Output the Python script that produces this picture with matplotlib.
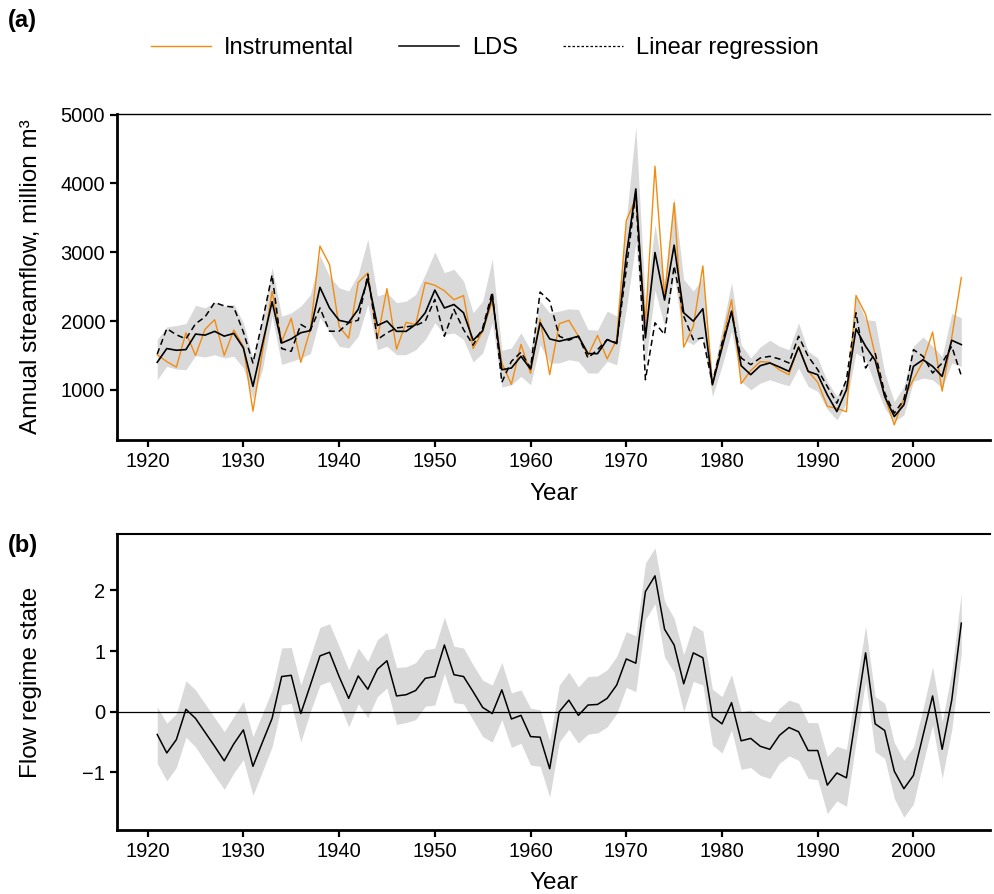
import matplotlib
matplotlib.use("Agg")
import matplotlib.pyplot as plt
from matplotlib.lines import Line2D
import numpy as np

plt.rcParams['font.family'] = ['Liberation Sans', 'DejaVu Sans']

# anos da serie
anos = list(range(1921, 2006))

# (a) vazao anual, milhoes de m3
instrumental = [1510, 1410, 1330, 1830, 1500, 1880, 2020, 1500, 1870, 1630,
                690, 1560, 2430, 1700, 2040, 1400, 1880, 3090, 2820, 1920,
                1750, 2560, 2700, 1740, 2470, 1590, 1980, 1950, 2560, 2520,
                2440, 2310, 2370, 1600, 1850, 2290, 1390, 1080, 1660, 1240,
                2030, 1220, 1960, 2010, 1780, 1500, 1790, 1450, 1730, 3460,
                3780, 1970, 4250, 2360, 3720, 1620, 1920, 2800, 1070, 1680,
                2310, 1090, 1280, 1410, 1400, 1290, 1220, 1630, 1270, 1110,
                760, 730, 680, 2370, 2100, 1510, 900, 490, 880, 1150,
                1410, 1840, 980, 1760, 2630]

lds = [1400, 1600, 1575, 1585, 1810, 1795, 1850, 1780, 1820, 1610,
       1050, 1670, 2280, 1680, 1740, 1830, 1860, 2490, 2190, 2010,
       1980, 2170, 2610, 1935, 2000, 1850, 1850, 1950, 2120, 2450,
       2190, 2240, 2120, 1720, 1860, 2363, 1292, 1317, 1487, 1302,
       1974, 1740, 1706, 1740, 1779, 1526, 1526, 1730, 1672, 2950,
       3920, 1755, 2996, 2305, 3103, 2120, 1998, 2178, 1074, 1609,
       2144, 1351, 1220, 1351, 1390, 1332, 1268, 1620, 1268, 1219,
       927, 684, 1000, 1886, 1633, 1429, 903, 611, 781, 1341,
       1438, 1341, 1195, 1720, 1657]

regressao = [1520, 1890, 1800, 1740, 1960, 2060, 2270, 2220, 2200, 1840,
             1390, 2000, 2670, 1600, 1560, 1950, 1870, 2190, 1852, 1852,
             1974, 2012, 2679, 1730, 1828, 1900, 1915, 1935, 1998, 2314,
             1779, 2168, 1876, 1650, 1901, 2421, 1108, 1414, 1546, 1317,
             2421, 2290, 1779, 1721, 1779, 1463, 1584, 1730, 1682, 2752,
             3871, 1147, 1974, 1804, 2801, 2071, 1730, 1755, 1098, 1682,
             2120, 1463, 1366, 1463, 1487, 1448, 1390, 1779, 1487, 1292,
             1049, 806, 1146, 2120, 1317, 1536, 952, 660, 855, 1584,
             1487, 1244, 1390, 1633, 1205]

lds_sup = [1730, 1915, 1935, 1964, 2227, 2193, 2275, 2217, 2241, 1974,
           1450, 2050, 2780, 2070, 2120, 2217, 2380, 2950, 2650, 2484,
           2436, 2679, 3190, 2363, 2412, 2266, 2290, 2387, 2679, 3005,
           2703, 2752, 2582, 2120, 2290, 2898, 1575, 1609, 1828, 1584,
           2290, 2120, 2144, 2178, 2168, 1876, 1867, 2144, 2071, 3482,
           4820, 2250, 3400, 2558, 3799, 2606, 2436, 2631, 1195, 1876,
           2558, 1658, 1463, 1624, 1721, 1633, 1584, 1974, 1560, 1463,
           1122, 903, 1146, 2363, 2022, 2003, 1244, 830, 1049, 1633,
           1769, 1633, 1487, 2110, 2047]

lds_inf = [1146, 1341, 1302, 1292, 1497, 1477, 1511, 1463, 1487, 1317,
           870, 1300, 2071, 1370, 1414, 1460, 1526, 2050, 1852, 1633,
           1609, 1779, 2241, 1584, 1633, 1511, 1511, 1584, 1730, 1974,
           1803, 1828, 1730, 1405, 1536, 1974, 1039, 1073, 1195, 1073,
           1658, 1390, 1390, 1438, 1414, 1244, 1244, 1414, 1365, 2168,
           3142, 1350, 2450, 1925, 2655, 1730, 1658, 1779, 903, 1341,
           1852, 1122, 1000, 1098, 1147, 1098, 1059, 1317, 1049, 976,
           718, 562, 806, 1536, 1438, 1073, 733, 538, 635, 1122,
           1171, 1146, 1025, 1390, 1341]

# (b) estado do regime de vazao
estado = [-0.375, -0.68, -0.46, 0.04, -0.11, -0.34, -0.57, -0.81, -0.53, -0.30,
          -0.90, -0.50, -0.11, 0.58, 0.60, -0.03, 0.44, 0.92, 0.98, 0.58,
          0.22, 0.59, 0.37, 0.70, 0.84, 0.26, 0.28, 0.35, 0.55, 0.58,
          1.10, 0.61, 0.58, 0.33, 0.07, -0.03, 0.36, -0.12, -0.06, -0.41,
          -0.42, -0.94, 0.0, 0.19, -0.06, 0.11, 0.12, 0.22, 0.44, 0.87,
          0.80, 1.98, 2.24, 1.36, 1.10, 0.46, 0.97, 0.89, -0.08, -0.20,
          0.15, -0.48, -0.44, -0.57, -0.62, -0.39, -0.26, -0.33, -0.64, -0.64,
          -1.21, -1.01, -1.09, -0.06, 0.97, -0.20, -0.31, -0.98, -1.27, -1.05,
          -0.39, 0.26, -0.62, 0.19, 1.46]

estado_sup = [0.08, -0.19, -0.03, 0.51, 0.36, 0.13, -0.10, -0.33, -0.08, 0.17,
              -0.41, -0.03, 0.36, 1.05, 1.06, 0.44, 0.91, 1.39, 1.45, 1.08,
              0.69, 1.05, 0.83, 1.19, 1.31, 0.73, 0.74, 0.81, 1.02, 1.05,
              1.56, 1.08, 1.05, 0.77, 0.52, 0.44, 0.81, 0.31, 0.36, 0.06,
              0.03, -0.48, 0.44, 0.65, 0.41, 0.58, 0.59, 0.69, 0.91, 1.32,
              1.25, 2.45, 2.70, 1.82, 1.54, 0.94, 1.43, 1.33, 0.37, 0.25,
              0.61, 0.0, 0.03, -0.11, -0.17, 0.06, 0.19, 0.14, -0.18, -0.18,
              -0.74, -0.57, -0.62, 0.40, 1.41, 0.25, 0.14, -0.51, -0.80, -0.58,
              0.05, 0.74, -0.17, 0.66, 1.96]

estado_inf = [-0.85, -1.14, -0.92, -0.42, -0.58, -0.82, -1.05, -1.28, -1.01, -0.79,
              -1.38, -0.98, -0.58, 0.11, 0.14, -0.50, 0.0, 0.44, 0.50, 0.14,
              -0.25, 0.13, -0.10, 0.25, 0.39, -0.21, -0.18, -0.13, 0.09, 0.11,
              0.63, 0.15, 0.13, -0.14, -0.41, -0.50, -0.13, -0.59, -0.52, -0.88,
              -0.90, -1.41, -0.50, -0.29, -0.52, -0.37, -0.35, -0.25, -0.03, 0.40,
              0.33, 1.52, 1.78, 0.90, 0.65, 0.0, 0.50, 0.44, -0.55, -0.68,
              -0.30, -0.95, -0.92, -1.05, -1.10, -0.85, -0.73, -0.80, -1.10, -1.12,
              -1.68, -1.47, -1.56, -0.50, 0.50, -0.66, -0.77, -1.43, -1.74, -1.52,
              -0.85, -0.22, -1.10, -0.30, 0.97]

cinza = '#d9d9d9'
laranja = '#f28c0f'

fig = plt.figure(figsize=(9.95, 8.94), dpi=100)
ax1 = fig.add_axes([0.1176, 0.5078, 0.8774, 0.3647])
ax2 = fig.add_axes([0.1176, 0.0716, 0.8774, 0.3311])

# painel (a)
ax1.fill_between(anos, lds_inf, lds_sup, color=cinza, lw=0)
ax1.plot(anos, instrumental, color=laranja, lw=1.0)
ax1.plot(anos, lds, color='black', lw=1.2)
ax1.plot(anos, regressao, color='black', lw=1.1, ls=(0, (4, 2.5)))
ax1.set_ylim(270, 5010)
ax1.set_yticks([1000, 2000, 3000, 4000, 5000])
ax1.set_ylabel('Annual streamflow, million m³', fontsize=17.5)
ax1.set_xlabel('Year', fontsize=17.5, labelpad=9)

# painel (b)
ax2.fill_between(anos, estado_inf, estado_sup, color=cinza, lw=0)
ax2.axhline(0, color='black', lw=0.9)
ax2.plot(anos, estado, color='black', lw=1.1)
ax2.set_ylim(-1.95, 2.93)
ax2.set_yticks([-1, 0, 1, 2])
ax2.set_ylabel('Flow regime state', fontsize=17.5)
ax2.set_xlabel('Year', fontsize=17.5, labelpad=8)

for ax, topo in [(ax1, 1.0), (ax2, 1.5)]:
    ax.set_xlim(1916.8, 2008)
    ax.set_xticks(range(1920, 2001, 10))
    ax.spines['right'].set_visible(False)
    ax.spines['top'].set_linewidth(topo)
    ax.spines['left'].set_linewidth(2)
    ax.spines['bottom'].set_linewidth(2)
    ax.tick_params(direction='out', length=5, width=1.6, labelsize=14.5)
    ax.yaxis.set_label_coords(-0.086, 0.5)

# legenda (tracejado mais fino, como no original)
h1 = Line2D([], [], color=laranja, lw=1.0)
h2 = Line2D([], [], color='black', lw=1.1)
h3 = Line2D([], [], color='black', lw=0.9, ls=(0, (2, 1.6)))
fig.legend([h1, h2, h3], ['Instrumental', 'LDS', 'Linear regression'],
           loc='center', bbox_to_anchor=(0.487, 0.946),
           ncol=3, frameon=False, fontsize=17, handlelength=2.55,
           handletextpad=0.55, columnspacing=1.9)

fig.text(0.008, 0.977, '(a)', fontsize=17, fontweight='bold', va='center')
fig.text(0.008, 0.39, '(b)', fontsize=17, fontweight='bold', va='center')

fig.savefig('out.png', dpi=100)
